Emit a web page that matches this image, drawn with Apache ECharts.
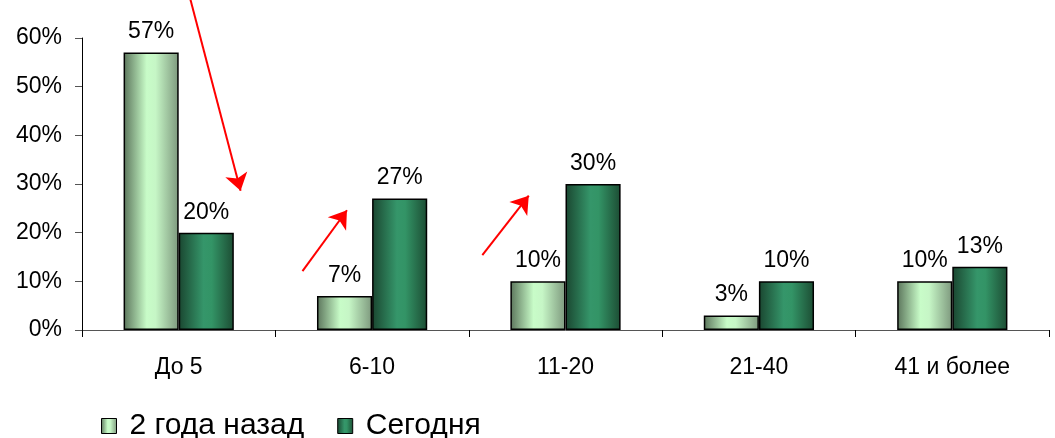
<!DOCTYPE html>
<html>
<head>
<meta charset="utf-8">
<script src="https://cdn.jsdelivr.net/npm/echarts@6/dist/echarts.min.js"></script>
<style>
  html, body { margin: 0; padding: 0; background: #fff; }
  #chart { width: 1055px; height: 438px; }
</style>
</head>
<body>
<div id="chart"></div>
<script>
// Categories (years of experience groups) and shares in percent
const categories = ['До 5', '6-10', '11-20', '21-40', '41 и более'];
const twoYearsAgo = [57, 7, 10, 3, 10];
const today = [20, 27, 30, 10, 13];
const seriesNames = ['2 года назад', 'Сегодня'];

// Trend arrows: [start, end] in (category index, percent) units
const trendArrows = [
  [[0.06, 68], [0.32, 28.6]],
  [[0.64, 12.1], [0.87, 24.6]],
  [[1.57, 15.4], [1.81, 27.6]]
];

const FONT = 'Liberation Sans, Arial, sans-serif';

const lightFill = new echarts.graphic.LinearGradient(0, 0, 1, 0, [
  { offset: 0, color: '#5b745b' },
  { offset: 0.42, color: '#c8fcc8' },
  { offset: 0.58, color: '#c6f6c6' },
  { offset: 1, color: '#7d987d' }
]);
const darkFill = new echarts.graphic.LinearGradient(0, 0, 1, 0, [
  { offset: 0, color: '#1a4630' },
  { offset: 0.45, color: '#35966a' },
  { offset: 0.6, color: '#339466' },
  { offset: 1, color: '#1c4c33' }
]);

const barLabel = {
  show: true,
  position: 'top',
  distance: 9,
  formatter: p => p.value + '%',
  color: '#000',
  fontFamily: FONT,
  fontSize: 23
};

const chart = echarts.init(document.getElementById('chart'), null, { renderer: 'canvas' });
chart.setOption({
  animation: false,
  backgroundColor: '#fff',
  grid: { left: 82, right: 6, top: 38, bottom: 108, containLabel: false },
  legend: {
    data: seriesNames,
    left: 96,
    top: 406,
    icon: 'rect',
    itemWidth: 15,
    itemHeight: 15,
    itemGap: 33,
    itemStyle: { borderColor: '#000', borderWidth: 1 },
    textStyle: { fontFamily: FONT, fontSize: 30, color: '#000', padding: [0, 0, 0, 8] }
  },
  xAxis: [
    {
      type: 'category',
      data: categories,
      axisLine: { lineStyle: { color: '#555', width: 1 } },
      axisTick: { show: true, length: 7, lineStyle: { color: '#000' } },
      axisLabel: { color: '#000', fontFamily: FONT, fontSize: 23, margin: 26 },
      splitLine: { show: false }
    },
    {
      type: 'value',
      min: -0.5,
      max: 4.5,
      show: false
    }
  ],
  yAxis: {
    type: 'value',
    min: 0,
    max: 60,
    interval: 10,
    axisLine: { show: true, onZero: false, lineStyle: { color: '#000', width: 1 } },
    axisTick: { show: true, inside: false, length: 7, lineStyle: { color: '#555' } },
    axisLabel: { formatter: '{value}%', color: '#000', fontFamily: FONT, fontSize: 23, margin: 20 },
    splitLine: { show: false }
  },
  series: [
    {
      name: seriesNames[0],
      type: 'bar',
      data: twoYearsAgo,
      barGap: '0%',
      barCategoryGap: '43%',
      itemStyle: { color: lightFill, borderColor: '#000', borderWidth: 1.5 },
      label: barLabel
    },
    {
      name: seriesNames[1],
      type: 'bar',
      data: today,
      itemStyle: { color: darkFill, borderColor: '#000', borderWidth: 1.5 },
      label: barLabel
    },
    {
      type: 'lines',
      coordinateSystem: 'cartesian2d',
      xAxisIndex: 1,
      yAxisIndex: 0,
      clip: false,
      silent: true,
      symbol: ['none', 'arrow'],
      symbolSize: [14, 17],
      lineStyle: { color: '#ff0000', width: 2, opacity: 1, curveness: 0 },
      data: trendArrows.map(a => ({ coords: a }))
    }
  ]
});
</script>
</body>
</html>
